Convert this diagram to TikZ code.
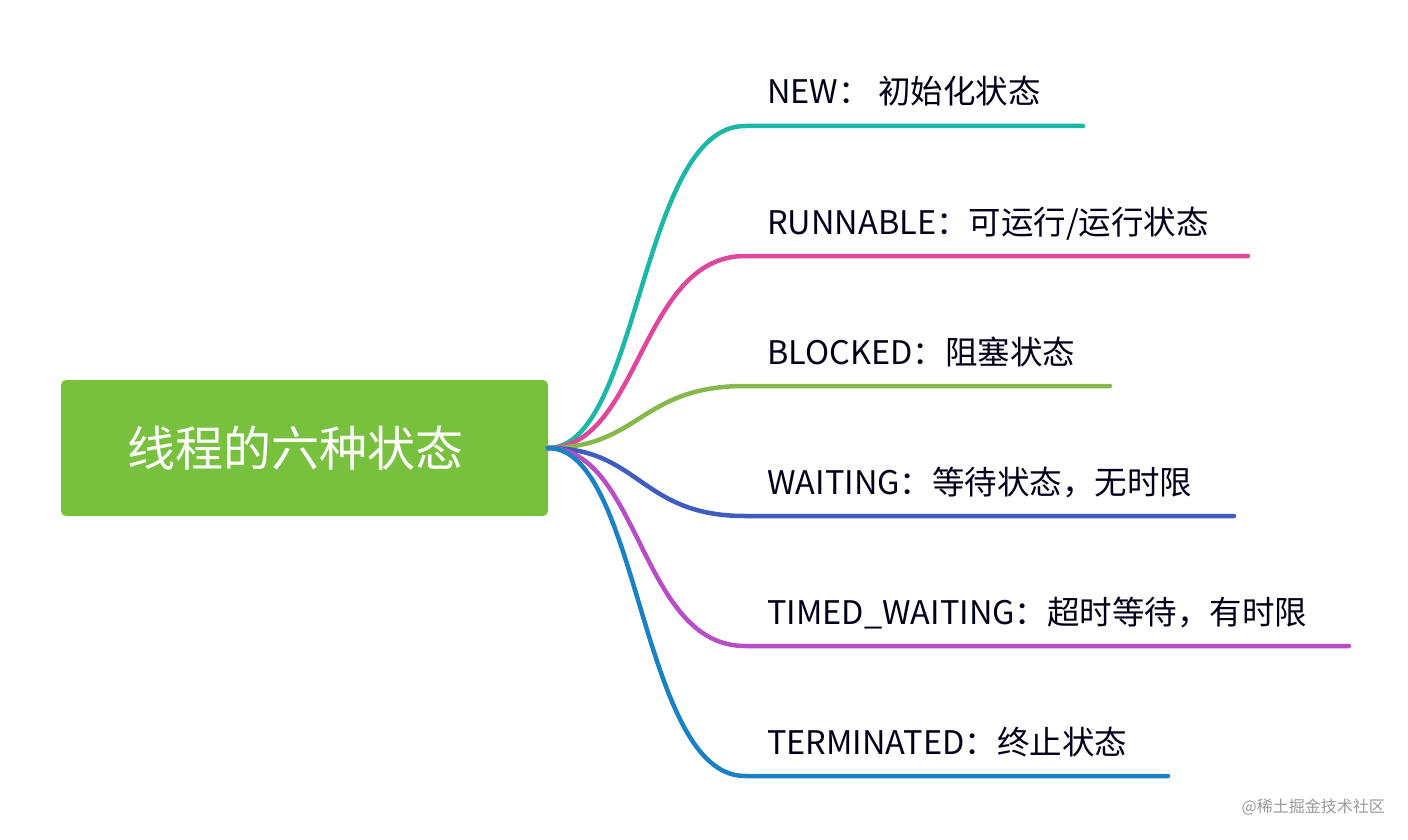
\documentclass[tikz,border=0pt]{standalone}
\usepackage{fontspec}
\setmainfont{Noto Sans CJK SC}
\begin{document}
\begin{tikzpicture}[x=1pt,y=-1pt,
  br/.style={line width=4.5pt,line cap=round},
  lab/.style={anchor=base west,inner sep=0pt,font=\fontsize{32.5}{32.5}\selectfont,text=black!90!blue}]
\useasboundingbox (0,0) rectangle (1408,840);
\definecolor{cA}{HTML}{1BB8A8}\definecolor{cB}{HTML}{DE479C}\definecolor{cC}{HTML}{86B84B}
\definecolor{cD}{HTML}{3F5DBE}\definecolor{cE}{HTML}{B84EC6}\definecolor{cF}{HTML}{1A82C4}
\definecolor{root}{HTML}{78C13E}
\node[fill=root,rounded corners=5pt,minimum width=487pt,minimum height=136pt,inner sep=0pt] (r) at (304.5,448) {};
\node[text=white,font=\fontsize{48}{48}\selectfont,inner sep=0pt] (rt) at (295,448) {线程的六种状态};
\coordinate (o) at (548,448);
\foreach \n/\y/\e/\c/\t in {a/126/1083/cA/{NEW：\ 初始化状态},b/256/1248/cB/{RUNNABLE：可运行/运行状态},
  c/386/1110/cC/{BLOCKED：阻塞状态},d/516/1234/cD/{WAITING：等待状态，无时限},
  e/646/1349/cE/{TIMED\_WAITING：超时等待，有时限},f/776/1168/cF/{TERMINATED：终止状态}}{
  \coordinate (s\n) at (745,\y);
  \coordinate (e\n) at (\e,\y);
  \draw[br,\c] (o) .. controls (640,448) and (640,\y) .. (s\n) -- (e\n);
  \node[lab] (t\n) at (767,\y-22) {\t};
}
\node[anchor=base east,text=gray!80,font=\fontsize{16}{16}\selectfont,inner sep=0pt] (w) at (1385,812) {@稀土掘金技术社区};
\end{tikzpicture}
\end{document}
